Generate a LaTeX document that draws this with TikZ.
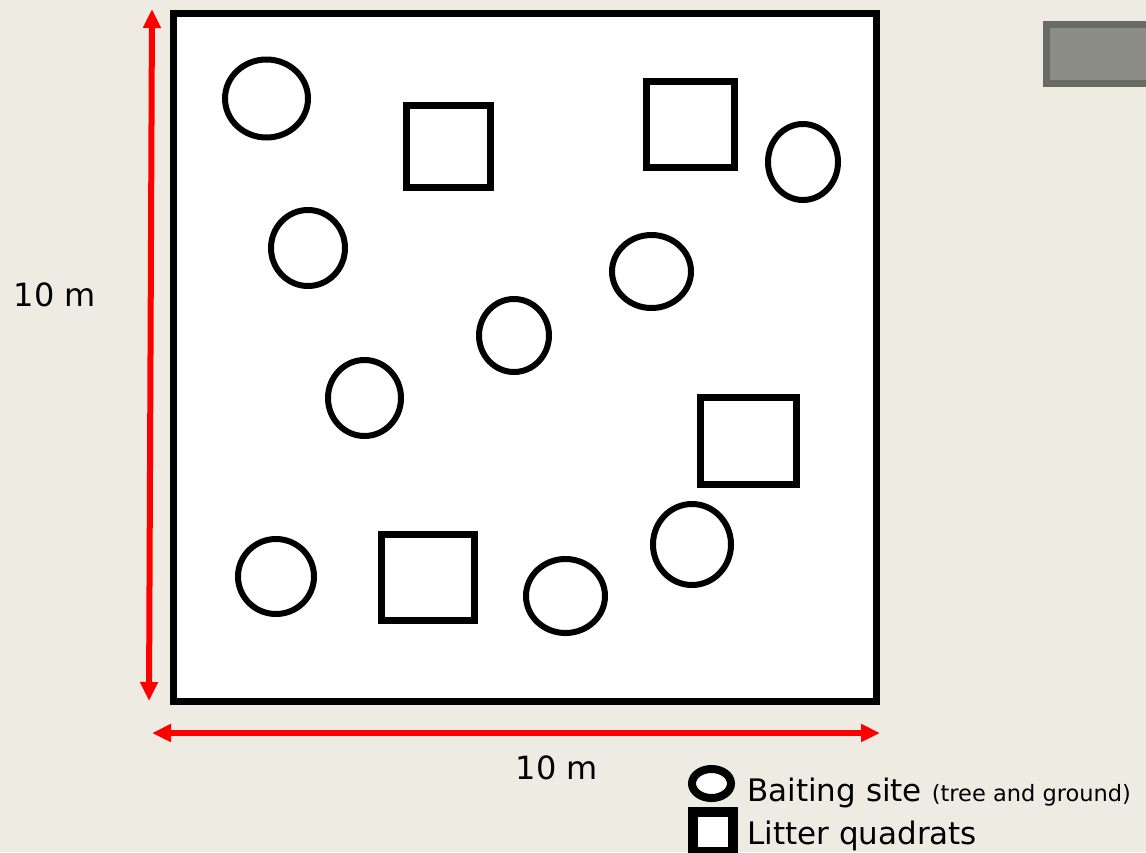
\documentclass[tikz,border=0pt]{standalone}
\usepackage{fontspec}
\setmainfont{DejaVu Sans}
\usetikzlibrary{arrows.meta,shapes.geometric}
\definecolor{paper}{RGB}{238,235,227}
\definecolor{scalered}{RGB}{255,0,0}
\definecolor{boxedge}{RGB}{104,106,100}
\definecolor{boxfill}{RGB}{140,141,134}

\begin{document}
\begin{tikzpicture}[x=1pt,y=-1pt,font=\fontsize{31}{33}\selectfont,
site/.style={ellipse,draw,line width=6pt,fill=white,inner sep=0pt},
quad/.style={rectangle,draw,line width=7pt,fill=white,inner sep=0pt},
scalearrow/.style={scalered,line width=6pt,{Triangle[length=19pt,width=17pt]}-{Triangle[length=19pt,width=17pt]}}]
\fill[paper] (0,0) rectangle (1146,852);
\useasboundingbox (0,0) rectangle (1146,852);
% plot outline
\draw[line width=7pt,fill=white] (173.5,13.5) rectangle (876.5,701.5);
% grey box cut by the right edge
\begin{scope}
\clip (0,0) rectangle (1146,852);
\draw[boxedge,fill=boxfill,line width=7pt] (1046.5,24.5) rectangle (1160,83.5);
\end{scope}
% baiting sites
\node[site,minimum width=83pt,minimum height=78pt] (s1) at (266.5,98.5) {};
\node[site,minimum width=74pt,minimum height=76pt] (s2) at (308,248) {};
\node[site,minimum width=73pt,minimum height=76pt] (s3) at (364.5,398) {};
\node[site,minimum width=70pt,minimum height=73pt] (s4) at (514,335.5) {};
\node[site,minimum width=79pt,minimum height=73pt] (s5) at (651.5,271.5) {};
\node[site,minimum width=70pt,minimum height=76pt] (s6) at (803,162) {};
\node[site,minimum width=76pt,minimum height=75pt] (s7) at (276,576.5) {};
\node[site,minimum width=79pt,minimum height=74pt] (s8) at (565.5,596) {};
\node[site,minimum width=78pt,minimum height=81pt] (s9) at (692,544.5) {};
% litter quadrats
\node[quad,minimum width=84pt,minimum height=82pt] (q1) at (448.5,146.5) {};
\node[quad,minimum width=88pt,minimum height=86pt] (q2) at (690.5,124.5) {};
\node[quad,minimum width=96pt,minimum height=87pt] (q3) at (748.5,441) {};
\node[quad,minimum width=93pt,minimum height=86pt] (q4) at (428,577.5) {};
% scale arrows
\coordinate (vtop) at (152,9);
\coordinate (vbot) at (149,701);
\coordinate (hleft) at (152,733);
\coordinate (hright) at (880,733);
\draw[scalearrow] (vtop) -- (vbot);
\draw[scalearrow] (hleft) -- (hright);
\node[font=\fontsize{32}{34}\selectfont,anchor=base] (side) at (55,306) {10 m};
\node[font=\fontsize{32}{34}\selectfont,anchor=base] (base) at (557,779) {10 m};
% legend
\node[site,line width=8pt,minimum width=39pt,minimum height=29pt] (keysite) at (711.5,783.5) {};
\node[quad,line width=10pt,minimum width=40pt,minimum height=40pt] (keyquad) at (713,832) {};
\node[anchor=base west,inner sep=0pt] (sitetext) at (747,801)
{Baiting site {\fontsize{22.5}{24}\selectfont(tree and ground)}};
\node[anchor=base west,inner sep=0pt] (quadtext) at (747,844) {Litter quadrats};
\end{tikzpicture}
\end{document}
